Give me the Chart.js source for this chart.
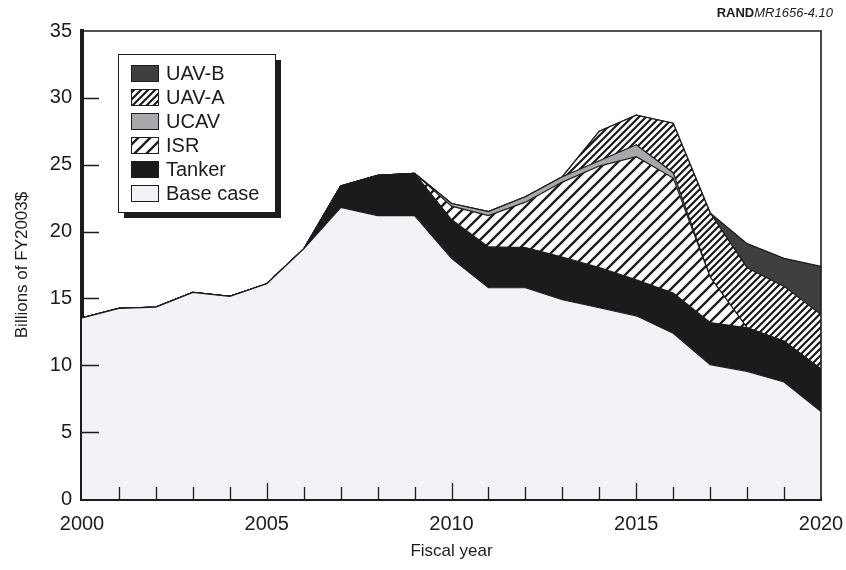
<!DOCTYPE html>
<html>
<head>
<meta charset="utf-8">
<script src="https://cdn.jsdelivr.net/npm/chart.js@4/dist/chart.umd.min.js"></script>
<style>
  html, body { margin: 0; padding: 0; background: #fff; }
  #wrap { width: 846px; height: 570px; position: relative; }
</style>
</head>
<body>
<div id="wrap"><canvas id="fundingChart" width="846" height="570"></canvas></div>
<script>
const years = ['2000','2001','2002','2003','2004','2005','2006','2007','2008','2009','2010',
  '2011','2012','2013','2014','2015','2016','2017','2018','2019','2020'];
const baseCase = [13.55, 14.25, 14.35, 15.45, 15.15, 16.1, 18.7, 21.8, 21.2, 21.2, 18.0,
  15.8, 15.8, 14.9, 14.3, 13.7, 12.4, 10.05, 9.55, 8.75, 6.55];
const tanker = [0, 0, 0, 0, 0, 0, 0, 1.6, 3.0, 3.15, 2.9,
  3.05, 3.0, 3.2, 3.0, 2.7, 3.0, 3.15, 3.25, 3.05, 3.15];
const isr = [0, 0, 0, 0, 0, 0, 0, 0, 0, 0, 1.0,
  2.35, 3.4, 5.6, 7.6, 9.2, 8.6, 3.4, 0, 0, 0];
const ucav = [0, 0, 0, 0, 0, 0, 0, 0, 0, 0, 0.2,
  0.3, 0.4, 0.4, 0.4, 0.9, 0.4, 0, 0, 0, 0];
const uavA = [0, 0, 0, 0, 0, 0, 0, 0, 0, 0, 0,
  0, 0, 0, 2.2, 2.2, 3.7, 4.8, 4.5, 4.1, 4.1];
const uavB = [0, 0, 0, 0, 0, 0, 0, 0, 0, 0, 0,
  0, 0, 0, 0, 0, 0, 0, 1.8, 2.1, 3.6];
const yTicks = [0, 5, 10, 15, 20, 25, 30, 35];

const FONT = "'Liberation Sans', Arial, Helvetica, sans-serif";
const INK = '#1c1c1e';

// diagonal hatch tiles ("/" direction)
function hatch(size, width) {
  const c = document.createElement('canvas');
  c.width = size; c.height = size;
  const g = c.getContext('2d');
  g.fillStyle = '#fff';
  g.fillRect(0, 0, size, size);
  g.strokeStyle = INK;
  g.lineWidth = width;
  g.beginPath();
  g.moveTo(0, size); g.lineTo(size, 0);
  g.moveTo(-size / 2, size / 2); g.lineTo(size / 2, -size / 2);
  g.moveTo(size / 2, size * 1.5); g.lineTo(size * 1.5, size / 2);
  g.stroke();
  return g.createPattern(c, 'repeat');
}
const isrHatch = hatch(12, 2.3);
const uavAHatch = hatch(7, 2.2);

function area(label, data, color, fill) {
  return {
    label, data,
    backgroundColor: color,
    borderColor: INK,
    borderWidth: 1.2,
    fill,
    pointRadius: 0,
    pointHoverRadius: 0,
    tension: 0
  };
}

// tick marks inside the plot, frame, legend box and source tag
const decor = {
  id: 'decor',
  afterDraw(chart) {
    const { ctx, chartArea: ca, scales: { x, y } } = chart;
    ctx.save();
    ctx.strokeStyle = INK;
    // top and right frame
    ctx.lineWidth = 1.6;
    ctx.beginPath();
    ctx.moveTo(ca.left, ca.top); ctx.lineTo(ca.right, ca.top); ctx.lineTo(ca.right, ca.bottom);
    ctx.stroke();
    // x ticks
    ctx.lineWidth = 1.3;
    ctx.beginPath();
    years.forEach((yr, i) => {
      if (i === 0 || i === years.length - 1) return;
      const px = Math.round(x.getPixelForValue(i)) + 0.5;
      const len = (+yr % 5 === 0) ? 16 : 12;
      ctx.moveTo(px, ca.bottom); ctx.lineTo(px, ca.bottom - len);
    });
    // y ticks
    yTicks.forEach(v => {
      if (v === 0 || v === 35) return;
      const py = Math.round(y.getPixelForValue(v)) + 0.5;
      ctx.moveTo(ca.left, py); ctx.lineTo(ca.left + 17, py);
    });
    ctx.stroke();

    // legend
    const lx = ca.left + 36, ly = ca.top + 23, lw = 157, lh = 158;
    ctx.fillStyle = INK;
    ctx.fillRect(lx + 6, ly + 6, lw, lh);
    ctx.fillStyle = '#fff';
    ctx.fillRect(lx, ly, lw, lh);
    ctx.lineWidth = 1;
    ctx.strokeRect(lx + 0.5, ly + 0.5, lw, lh);
    const sets = chart.data.datasets.slice().reverse();
    ctx.font = '20px ' + FONT;
    ctx.textBaseline = 'middle';
    sets.forEach((ds, i) => {
      const cy = ly + 19 + i * 24;
      ctx.fillStyle = ds.backgroundColor;
      ctx.fillRect(lx + 13, cy - 8, 27, 16);
      ctx.strokeRect(lx + 13.5, cy - 7.5, 27, 16);
      ctx.fillStyle = INK;
      ctx.fillText(ds.label, lx + 48, cy + 1);
    });

    // source tag
    ctx.textBaseline = 'alphabetic';
    ctx.textAlign = 'right';
    ctx.font = 'italic 13px ' + FONT;
    const tag = 'MR1656-4.10';
    ctx.fillText(tag, ca.right + 12, 17);
    const tw = ctx.measureText(tag).width;
    ctx.font = 'bold 13px ' + FONT;
    ctx.fillText('RAND', ca.right + 12 - tw, 17);
    ctx.restore();
  }
};

const ctx = document.getElementById('fundingChart').getContext('2d');
new Chart(ctx, {
  type: 'line',
  data: {
    labels: years,
    datasets: [
      area('Base case', baseCase, '#f2f3f7', 'origin'),
      area('Tanker', tanker, '#1b1b1d', '-1'),
      area('ISR', isr, isrHatch, '-1'),
      area('UCAV', ucav, '#a7a8ab', '-1'),
      area('UAV-A', uavA, uavAHatch, '-1'),
      area('UAV-B', uavB, '#3f3f41', '-1')
    ]
  },
  options: {
    responsive: false,
    animation: false,
    devicePixelRatio: 1,
    layout: { padding: { top: 31, right: 25, left: 0, bottom: 0 } },
    plugins: {
      legend: { display: false },
      tooltip: { enabled: false },
      title: { display: false }
    },
    scales: {
      x: {
        z: 1,
        grid: { display: false, drawTicks: false },
        border: { display: true, width: 4, color: INK },
        ticks: {
          autoSkip: false,
          maxRotation: 0,
          padding: 13,
          color: INK,
          font: { family: FONT, size: 20 },
          callback: (v, i) => (+years[i] % 5 === 0 ? years[i] : '')
        },
        title: {
          display: true,
          text: 'Fiscal year',
          color: INK,
          font: { family: FONT, size: 17 },
          padding: { top: 0, bottom: 8 }
        },
        afterFit: s => { s.height = 71; s.paddingLeft = 0; s.paddingRight = 0; }
      },
      y: {
        z: 1,
        stacked: true,
        min: 0,
        max: 35,
        grid: { display: false, drawTicks: false },
        border: { display: true, width: 4, color: INK },
        ticks: {
          stepSize: 5,
          padding: 10,
          color: INK,
          font: { family: FONT, size: 20 }
        },
        title: {
          display: true,
          text: 'Billions of FY2003$',
          color: INK,
          font: { family: FONT, size: 17 },
          padding: { top: 12, bottom: 0 }
        },
        afterFit: s => { s.width = 82; }
      }
    }
  },
  plugins: [decor]
});
</script>
</body>
</html>
